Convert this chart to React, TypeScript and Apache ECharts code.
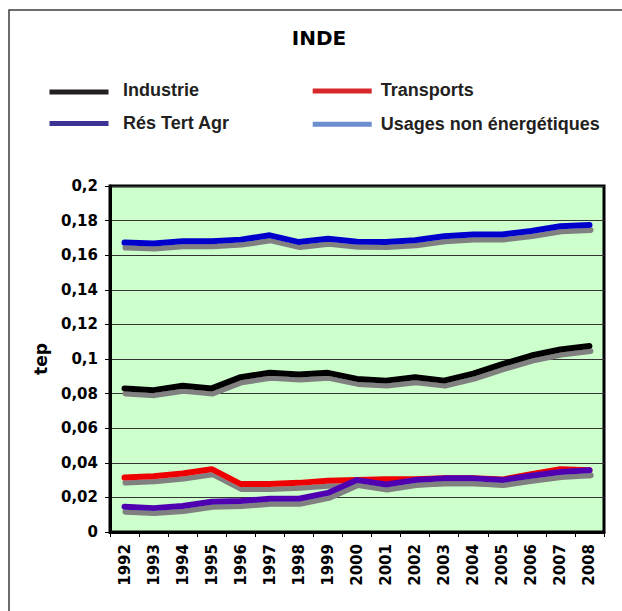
import React, { useEffect, useRef } from "react";
import * as echarts from "echarts";

const years = ["1992","1993","1994","1995","1996","1997","1998","1999","2000","2001","2002","2003","2004","2005","2006","2007","2008"];
const industrie = [0.083, 0.082, 0.0845, 0.083, 0.0895, 0.092, 0.091, 0.092, 0.0885, 0.0875, 0.0895, 0.0875, 0.0915, 0.097, 0.102, 0.1055, 0.1075];
const transports = [0.0315, 0.0322, 0.0338, 0.0363, 0.0277, 0.0277, 0.0284, 0.0296, 0.030, 0.0305, 0.0305, 0.031, 0.031, 0.0303, 0.0334, 0.0363, 0.0357];
const resTertAgr = [0.0146, 0.0138, 0.015, 0.0175, 0.0179, 0.0192, 0.0192, 0.0226, 0.030, 0.0275, 0.030, 0.031, 0.031, 0.030, 0.0325, 0.0347, 0.0357];
const usagesNonEnerg = [0.1673, 0.1667, 0.168, 0.168, 0.169, 0.1715, 0.1676, 0.1695, 0.1678, 0.1676, 0.1686, 0.171, 0.172, 0.172, 0.174, 0.1767, 0.1775];

const seriesNames = ["Industrie", "Transports", "Rés Tert Agr", "Usages non énergétiques"];
const lineColors = ["#000000", "#ee0000", "#5000b0", "#0000cc"];
const legendColors = ["#231f20", "#d7272b", "#3d3394", "#6a8ecf"];
const seriesData = [industrie, transports, resTertAgr, usagesNonEnerg];

const tickFont = 'Verdana, "DejaVu Sans", sans-serif';
const legendFont = '"Liberation Sans", Arial, sans-serif';

// legend slots: [iconX, iconCenterY, textX, textCenterY]
const legendSlots = [
  [49.5, 92, 123, 89.6],
  [312.7, 91, 380.7, 90],
  [49.5, 123.5, 123, 123],
  [312.7, 124.3, 380.7, 123.8],
];

export default function App() {
  const ref = useRef<HTMLDivElement>(null);
  useEffect(() => {
    if (!ref.current) return;
    const chart = echarts.init(ref.current, null, { renderer: "svg" });
    const legendGraphics: any[] = [];
    seriesNames.forEach((name, i) => {
      const [ix, iy, tx, ty] = legendSlots[i];
      legendGraphics.push({
        type: "rect",
        shape: { x: ix, y: iy - 2.5, width: 59, height: 5 },
        style: { fill: legendColors[i] },
        silent: true,
      });
      legendGraphics.push({
        type: "text",
        x: tx,
        y: ty,
        style: {
          text: name,
          fontFamily: legendFont,
          fontWeight: "bold",
          fontSize: 18,
          fill: "#231f20",
          align: "left",
          verticalAlign: "middle",
        },
        silent: true,
      });
    });
    chart.setOption({
      animation: false,
      backgroundColor: "#ffffff",
      graphic: [
        {
          type: "rect",
          shape: { x: 9, y: 10, width: 800, height: 800 },
          style: { fill: "none", stroke: "#3c3c3c", lineWidth: 1.5 },
          silent: true,
        },
        {
          type: "text",
          x: 319,
          y: 38,
          style: {
            text: "INDE",
            fontFamily: tickFont,
            fontWeight: "bold",
            fontSize: 20,
            fill: "#000",
            align: "center",
            verticalAlign: "middle",
          },
        },
        {
          type: "text",
          x: 41,
          y: 359,
          rotation: Math.PI / 2,
          style: {
            text: "tep",
            fontFamily: tickFont,
            fontWeight: "bold",
            fontSize: 17,
            fill: "#000",
            align: "center",
            verticalAlign: "middle",
          },
        },
        ...legendGraphics,
      ],
      grid: {
        left: 110,
        top: 186,
        right: 18,
        bottom: 79,
        show: true,
        backgroundColor: "#ccffcc",
        borderColor: "#000",
        borderWidth: 3,
      },
      xAxis: {
        type: "category",
        data: years,
        boundaryGap: true,
        axisLine: { show: true, lineStyle: { color: "#000", width: 3 } },
        axisTick: { show: true, length: 5, interval: 0, lineStyle: { color: "#000", width: 1 } },
        axisLabel: {
          interval: 0,
          rotate: 90,
          margin: 12,
          fontFamily: tickFont,
          fontWeight: "bold",
          fontSize: 15,
          color: "#000",
        },
        splitLine: { show: false },
      },
      yAxis: {
        type: "value",
        min: 0,
        max: 0.2,
        interval: 0.02,
        axisLine: { show: true, lineStyle: { color: "#000", width: 3 } },
        axisTick: { show: true, length: 5, lineStyle: { color: "#000", width: 1 } },
        axisLabel: {
          margin: 12,
          fontFamily: tickFont,
          fontWeight: "bold",
          fontSize: 15,
          color: "#000",
          formatter: (v: number) => String(Number(v.toFixed(2))).replace(".", ","),
        },
        splitLine: { show: true, lineStyle: { color: "#333", width: 1 } },
      },
      series: seriesNames.map((name, i) => ({
        name,
        type: "line",
        data: seriesData[i],
        symbol: "none",
        showSymbol: false,
        color: lineColors[i],
        lineStyle: {
          color: lineColors[i],
          width: 6,
          cap: "round",
          join: "round",
          shadowColor: "#808080",
          shadowBlur: 0,
          shadowOffsetX: 1,
          shadowOffsetY: 5,
        },
        z: 2 + i,
      })),
    });
    return () => chart.dispose();
  }, []);
  return (
    <div
      ref={ref}
      style={{ position: "fixed", left: 0, top: 0, width: 622, height: 611, overflow: "hidden" }}
    />
  );
}
